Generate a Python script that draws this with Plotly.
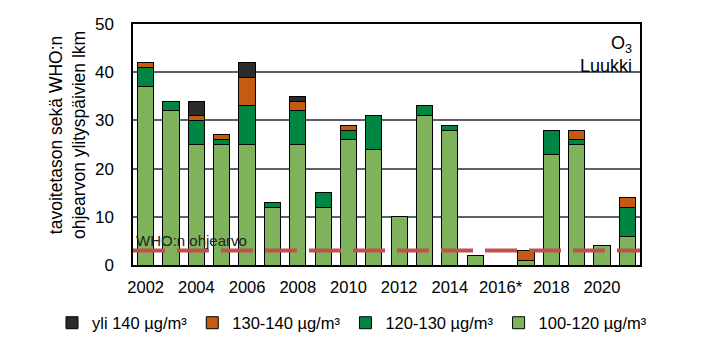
import plotly.graph_objects as go

years = [str(y) for y in range(2002, 2022)]
years[14] = "2016*"
tick_labels = ["2002", "2004", "2006", "2008", "2010", "2012", "2014", "2016*", "2018", "2020"]

v100_120 = [37, 32, 25, 25, 25, 12, 25, 12, 26, 24, 10, 31, 28, 2, 0, 1, 23, 25, 4, 6]
v120_130 = [4, 2, 5, 1, 8, 1, 7, 3, 2, 7, 0, 2, 1, 0, 0, 0, 5, 1, 0, 6]
v130_140 = [1, 0, 1, 1, 6, 0, 2, 0, 1, 0, 0, 0, 0, 0, 0, 2, 0, 2, 0, 2]
v_yli140 = [0, 0, 3, 0, 3, 0, 1, 0, 0, 0, 0, 0, 0, 0, 0, 0, 0, 0, 0, 0]
who_guideline = 3

series = [
    ("100-120 µg/m³", v100_120, "#7EB35C", 4),
    ("120-130 µg/m³", v120_130, "#008542", 3),
    ("130-140 µg/m³", v130_140, "#C55A11", 2),
    ("yli 140 µg/m³", v_yli140, "#2B2B2B", 1),
]

FONT = "Liberation Sans, Arial, sans-serif"
xpos = list(range(len(years)))

fig = go.Figure()
for name, vals, color, rank in series:
    fig.add_trace(go.Bar(
        x=xpos, y=[v if v else None for v in vals], name=name,
        marker=dict(color=color, line=dict(color="black", width=1)),
        width=0.64, legendrank=rank,
    ))

fig.add_trace(go.Scatter(
    x=[-0.5, len(years) - 0.5], y=[who_guideline, who_guideline], mode="lines",
    line=dict(color="#C0504D", width=4, dash="32px,12px"), showlegend=False,
    hoverinfo="skip",
))

fig.update_layout(
    width=705, height=355, barmode="stack",
    margin=dict(l=133, r=65, t=24, b=90, autoexpand=False),
    paper_bgcolor="white", plot_bgcolor="white",
    font=dict(family=FONT, size=17, color="black"),
    showlegend=True,
    legend=dict(orientation="h", xref="paper", yref="paper",
                x=(52 - 133) / 507, xanchor="left", y=-(323 - 265) / 241, yanchor="middle",
                font=dict(size=16.5), itemwidth=30, traceorder="normal"),
)
fig.update_xaxes(
    range=[-0.5, len(years) - 0.5], tickmode="array",
    tickvals=[i for i in xpos if i % 2 == 0], ticktext=tick_labels,
    showgrid=False, showline=True, linecolor="black", linewidth=1.5, mirror=True,
    ticks="", ticklabelstandoff=6, tickfont=dict(size=16.5), automargin=False,
)
fig.update_yaxes(
    range=[0, 50], tickvals=[0, 10, 20, 30, 40, 50],
    showgrid=True, gridcolor="#59636B", gridwidth=1.5,
    showline=True, linecolor="black", linewidth=1.5, mirror=True,
    ticks="", ticklabelstandoff=14, zeroline=False, tickfont=dict(size=17),
    automargin=False,
)
fig.add_annotation(
    text="tavoitetason sekä WHO:n<br>ohjearvon ylityspäivien lkm",
    xref="paper", yref="paper", x=(67 - 133) / 507, y=(265 - 135) / 241,
    xanchor="center", yanchor="middle", textangle=-90, showarrow=False,
    font=dict(size=17.5),
)
fig.add_annotation(
    text="O<sub>3</sub><br>Luukki", xref="paper", yref="paper",
    x=(634 - 133) / 507, y=1 - (31 - 24) / 241, xanchor="right", yanchor="top",
    align="right", showarrow=False, font=dict(size=18),
)
fig.add_annotation(
    text="WHO:n ohjearvo", xref="x", yref="paper",
    x=-0.45, y=(265 - 240) / 241, xanchor="left", yanchor="middle",
    showarrow=False, font=dict(size=15, color="#222222"),
)

fig.write_html("out.html", config={"displayModeBar": False},
               post_script="document.body.style.margin='0';")
